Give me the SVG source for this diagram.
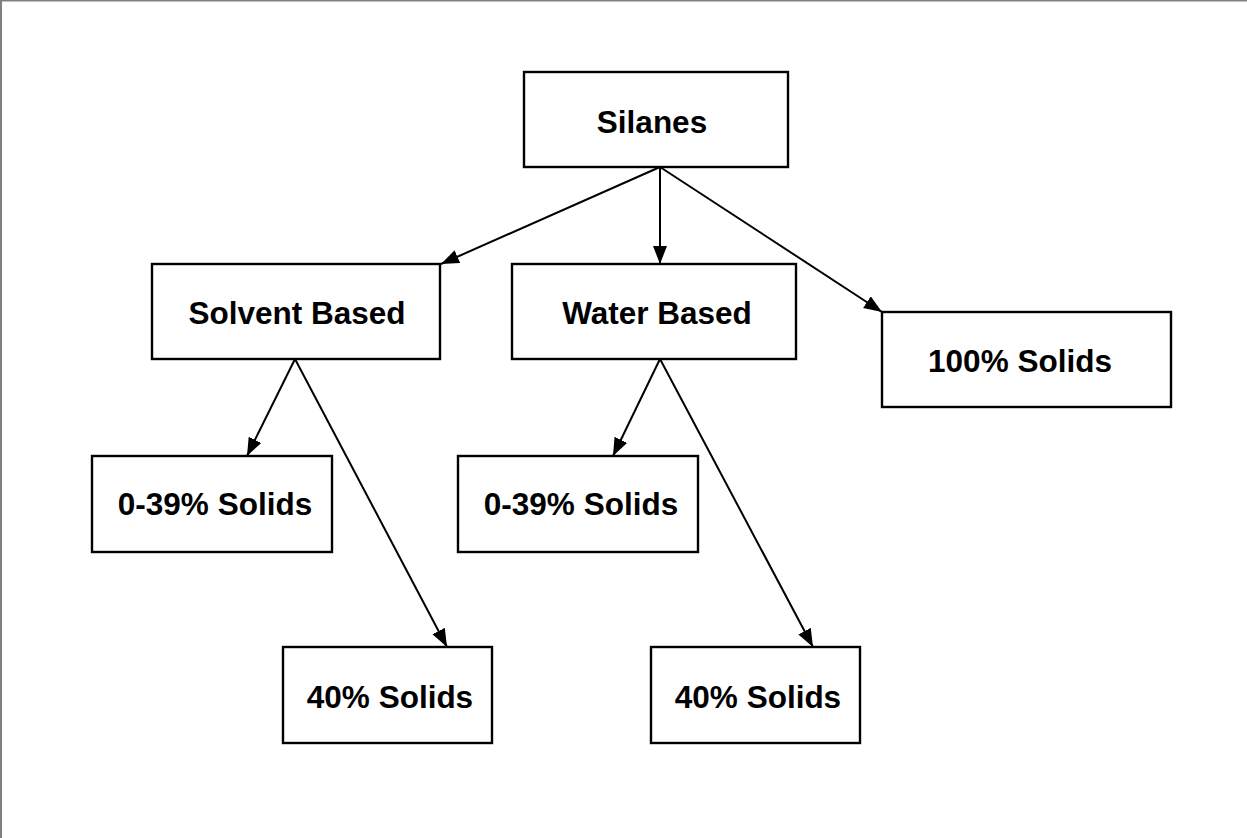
<svg xmlns="http://www.w3.org/2000/svg" width="1247" height="838" viewBox="0 0 1247 838">
<style>
.box{fill:#fff;stroke:#000;stroke-width:2.4}
.lbl{font-family:"Liberation Sans",Arial,sans-serif;font-weight:bold;font-size:31.5px;fill:#000;text-anchor:middle}
.con{stroke:#000;stroke-width:2;fill:none;marker-end:url(#arr)}
</style>
<defs>
<marker id="arr" markerUnits="userSpaceOnUse" markerWidth="20" markerHeight="16" refX="18" refY="7" orient="auto">
<path d="M0,0 L18,7 L0,14 z" fill="#000"/>
</marker>
</defs>
<rect x="0" y="0" width="1247" height="838" fill="#fff"/>
<line x1="0" y1="0.75" x2="1247" y2="0.75" stroke="#808080" stroke-width="1.5"/>
<line x1="1" y1="0" x2="1" y2="838" stroke="#808080" stroke-width="2"/>
<g id="connectors">
<line class="con" x1="660" y1="167" x2="441" y2="264"/>
<line class="con" x1="660" y1="167" x2="660" y2="264"/>
<line class="con" x1="660" y1="167" x2="882" y2="312"/>
<line class="con" x1="295" y1="359" x2="247" y2="456"/>
<line class="con" x1="295" y1="359" x2="447" y2="647"/>
<line class="con" x1="660" y1="359" x2="613" y2="456"/>
<line class="con" x1="660" y1="359" x2="813" y2="647"/>
</g>
<g id="silanes"><rect class="box" x="524" y="72" width="264" height="95"/><text class="lbl" x="652" y="133">Silanes</text></g>
<g id="solvent"><rect class="box" x="152" y="264" width="288" height="95"/><text class="lbl" x="297" y="324">Solvent Based</text></g>
<g id="water"><rect class="box" x="512" y="264" width="284" height="95"/><text class="lbl" x="657" y="324">Water Based</text></g>
<g id="solids100"><rect class="box" x="882" y="312" width="289" height="95"/><text class="lbl" x="1020" y="372">100% Solids</text></g>
<g id="solvent039"><rect class="box" x="92" y="456" width="240" height="96"/><text class="lbl" x="215" y="515">0-39% Solids</text></g>
<g id="water039"><rect class="box" x="458" y="456" width="240" height="96"/><text class="lbl" x="581" y="515">0-39% Solids</text></g>
<g id="solvent40"><rect class="box" x="283" y="647" width="209" height="96"/><text class="lbl" x="390" y="708">40% Solids</text></g>
<g id="water40"><rect class="box" x="651" y="647" width="209" height="96"/><text class="lbl" x="758" y="708">40% Solids</text></g>
</svg>
